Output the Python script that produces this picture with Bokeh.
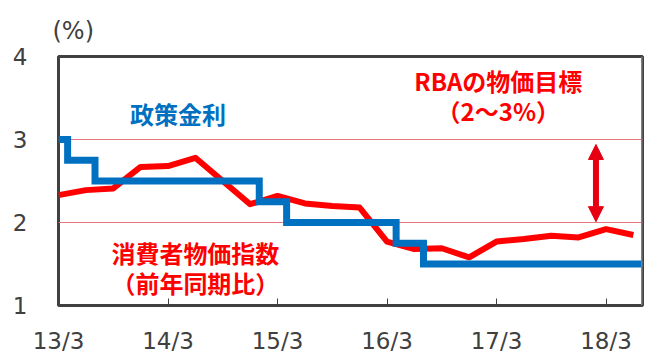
from bokeh.plotting import figure
from bokeh.models import FixedTicker, Label, Span, Arrow, NormalHead, Title
from bokeh.embed import file_html
from bokeh.resources import INLINE

# x = months elapsed since 2013/3
cpi_months = [0, 3, 6, 9, 12, 15, 18, 21, 24, 27, 30, 33, 36, 39, 42, 45, 48, 51, 54, 57, 60, 63]
cpi_values = [2.33, 2.39, 2.41, 2.67, 2.68, 2.78, 2.50, 2.22, 2.32, 2.23, 2.20, 2.18,
              1.77, 1.68, 1.69, 1.58, 1.77, 1.80, 1.84, 1.82, 1.92, 1.85]

rate_months = [0, 1, 4, 22, 25, 37, 40, 64]
rate_values = [3.0, 2.75, 2.5, 2.25, 2.0, 1.75, 1.5, 1.5]

x_tick_pos = [0, 12, 24, 36, 48, 60]
x_tick_labels = ["13/3", "14/3", "15/3", "16/3", "17/3", "18/3"]
y_ticks = [1, 2, 3, 4]
target_band = [2, 3]

RED = "#FF0000"
BLUE = "#0070C0"
DARK = "#404040"

p = figure(width=660, height=364, x_range=(0, 64), y_range=(1, 4),
           output_backend="svg", toolbar_location=None,
           min_border_left=58, min_border_right=18, min_border_top=56, min_border_bottom=59)
p.background_fill_color = "white"
p.border_fill_color = "white"
p.outline_line_color = DARK
p.outline_line_width = 3

p.add_layout(Title(text="(%)", align="left", offset=-6, standoff=24,
                   text_font="DejaVu Sans", text_font_size="24px",
                   text_font_style="normal", text_color=DARK), "above")

p.xgrid.grid_line_color = None
p.ygrid.ticker = FixedTicker(ticks=target_band)
p.ygrid.grid_line_color = "#E8767E"
p.ygrid.grid_line_width = 1

p.xaxis.ticker = FixedTicker(ticks=x_tick_pos)
p.xaxis.major_label_overrides = {t: l for t, l in zip(x_tick_pos, x_tick_labels)}
p.xaxis.axis_line_color = None
p.xaxis.major_tick_in = 7
p.xaxis.major_tick_out = 0
p.xaxis.major_tick_line_color = DARK
p.xaxis.minor_tick_line_color = None
p.xaxis.major_label_text_font = "DejaVu Sans"
p.xaxis.major_label_text_font_size = "23px"
p.xaxis.major_label_text_color = DARK
p.xaxis.major_label_standoff = 22

p.yaxis.ticker = FixedTicker(ticks=y_ticks)
p.yaxis.axis_line_color = None
p.yaxis.major_tick_line_color = None
p.yaxis.minor_tick_line_color = None
p.yaxis.major_label_text_font = "DejaVu Sans"
p.yaxis.major_label_text_font_size = "23px"
p.yaxis.major_label_text_color = DARK
p.yaxis.major_label_standoff = 25

p.line(cpi_months, cpi_values, line_color=RED, line_width=6, line_join="round")
p.step(rate_months, rate_values, mode="after", line_color=BLUE, line_width=7, line_join="miter")

p.add_layout(Span(location=64, dimension="height", line_color="#808080", line_width=3))

p.add_layout(Arrow(x_start=58.9, y_start=2.5, x_end=58.9, y_end=2.94,
                   line_color="#E60012", line_width=6,
                   end=NormalHead(size=15, fill_color="#E60012", line_color="#E60012")))
p.add_layout(Arrow(x_start=58.9, y_start=2.5, x_end=58.9, y_end=2.01,
                   line_color="#E60012", line_width=6,
                   end=NormalHead(size=15, fill_color="#E60012", line_color="#E60012")))

def lab(x, y, text, color, size, bold=True, font="Noto Sans CJK JP"):
    p.add_layout(Label(x=x, y=y, text=text, text_color=color, text_font=font,
                       text_font_size=size, text_font_style="bold" if bold else "normal",
                       text_align="center", text_baseline="middle"))

lab(13.1, 3.31, "政策金利", BLUE, "24px")
lab(48.2, 3.71, "RBAの物価目標", RED, "24px")
lab(48.2, 3.35, "（2～3%）", RED, "24px")
lab(15.0, 1.64, "消費者物価指数", RED, "24px")
lab(15.0, 1.28, "（前年同期比）", RED, "24px")

open("out.html", "w").write(file_html(p, INLINE))
